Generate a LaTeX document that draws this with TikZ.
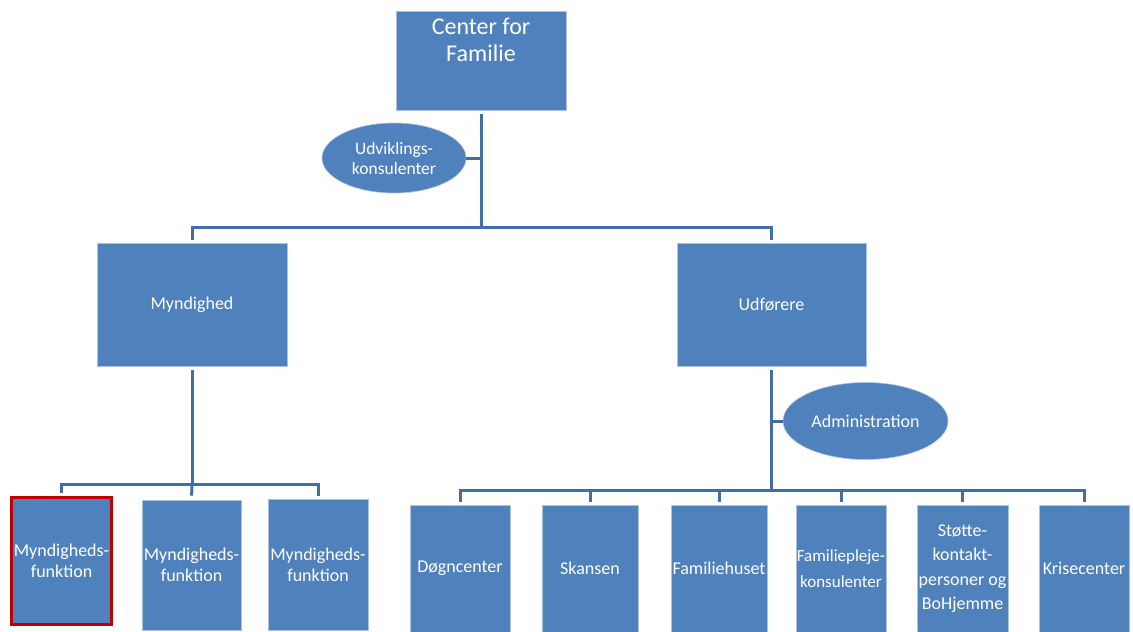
\documentclass[tikz,border=0pt]{standalone}
\usepackage{fontspec}
\setmainfont{Carlito}
\usetikzlibrary{shapes.geometric}
\definecolor{boxblue}{RGB}{79,129,189}
\definecolor{linblue}{RGB}{65,110,165}
\definecolor{edgeblue}{RGB}{170,195,225}
\definecolor{redb}{RGB}{192,0,0}
\tikzset{
  box/.style={rectangle,fill=boxblue,draw=edgeblue,line width=0.6pt,text=white,align=center,inner sep=0pt,font=\fontsize{18}{21.5}\selectfont},
  oval/.style={ellipse,fill=boxblue,draw=edgeblue,line width=0.6pt,text=white,align=center,inner sep=0pt,font=\fontsize{17.5}{20}\selectfont},
  conn/.style={draw=linblue,line width=3pt},
}
\begin{document}
\begin{tikzpicture}[x=1pt,y=-1pt]
\useasboundingbox (0,0) rectangle (1133,632);
% level 0
\node[box,minimum width=170pt,minimum height=99pt,
  label={[anchor=north,text=white,align=center,font=\fontsize{24}{27}\selectfont,yshift=-4pt]north:Center for\\Familie}] (top) at (481,60.5) {};
\node[oval,minimum width=144pt,minimum height=70pt] (udv) at (394,158) {Udviklings-\\konsulenter};
% level 1
\node[box,minimum width=190pt,minimum height=123pt] (mynd) at (192,304.5) {Myndighed};
\node[box,minimum width=189pt,minimum height=123pt] (udf) at (771.5,304.5) {Udførere};
\node[oval,minimum width=165pt,minimum height=77pt,font=\fontsize{18}{20}\selectfont] (adm) at (865.5,421) {Administration};
% level 2 left
\node[box,minimum width=100pt,minimum height=127pt,draw=redb,line width=2.5pt] (f1) at (61.5,561) {Myndigheds-\\funktion};
\node[box,minimum width=99pt,minimum height=130pt] (f2) at (191.5,565) {Myndigheds-\\funktion};
\node[box,minimum width=100pt,minimum height=131pt] (f3) at (318,565) {Myndigheds-\\funktion};
% level 2 right
\node[box,minimum width=100pt,minimum height=127pt] (d1) at (460,568.5) {Døgncenter};
\node[box,minimum width=96pt,minimum height=127pt] (d2) at (590,568.5) {Skansen};
\node[box,minimum width=96pt,minimum height=127pt] (d3) at (719,568.5) {Familiehuset};
\node[box,minimum width=90pt,minimum height=127pt,font=\fontsize{17}{26}\selectfont] (d4) at (841,568.5) {Familiepleje-\\konsulenter};
\node[box,minimum width=91pt,minimum height=127pt,font=\fontsize{18}{24.5}\selectfont] (d5) at (962.5,568.5) {Støtte-\\kontakt-\\personer og\\BoHjemme};
\node[box,minimum width=90pt,minimum height=127pt] (d6) at (1084,568.5) {Krisecenter};
% junctions
\coordinate (j1) at (481,227);
\coordinate (j2) at (192,484);
\coordinate (j3) at (771.5,490);
% connectors
\draw[conn,shorten <=4pt] (top.south) -- (j1);
\draw[conn] (udv.east) -- (udv.east -| top.south);
\draw[conn,shorten <=3pt,shorten >=3pt] (mynd.north) |- (j1) -| (udf.north);
\draw[conn,shorten <=4pt] (mynd.south) -- (j2);
\draw[conn,shorten <=3pt,shorten >=3pt] (f1.north) |- (j2) -| (f3.north);
\draw[conn,shorten >=4pt] (j2) -- (f2.north);
\draw[conn,shorten <=4pt] (udf.south) -- (j3);
\draw[conn] (adm.west) -- (adm.west -| udf.south);
\draw[conn,shorten <=3pt,shorten >=3pt] (d1.north) |- (j3) -| (d6.north);
\foreach \n in {d2,d3,d4,d5}{
  \draw[conn,shorten >=3pt] (j3 -| \n.north) -- (\n.north);
}
\end{tikzpicture}
\end{document}
